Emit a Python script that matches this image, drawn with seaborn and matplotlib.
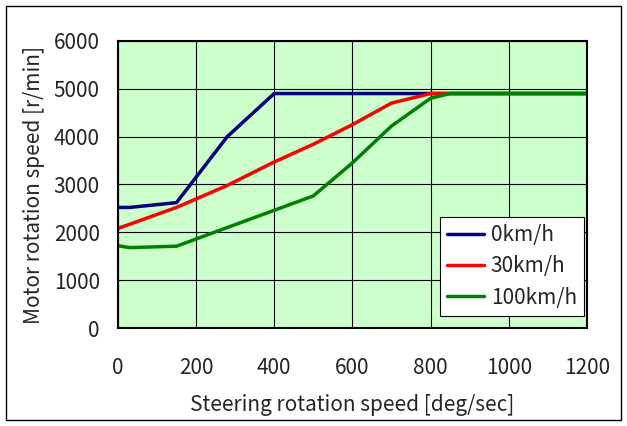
import pandas as pd
import seaborn as sns
import matplotlib.pyplot as plt
import matplotlib.patches as patches

# --- données ---
x_0kmh = [0, 30, 150, 280, 400, 1200]
y_0kmh = [2520, 2520, 2620, 4000, 4900, 4900]

x_30kmh = [0, 150, 280, 400, 500, 600, 700, 800, 850, 1200]
y_30kmh = [2080, 2520, 2980, 3470, 3840, 4250, 4700, 4900, 4900, 4900]

x_100kmh = [0, 30, 150, 500, 600, 700, 800, 850, 1200]
y_100kmh = [1720, 1680, 1710, 2760, 3450, 4220, 4800, 4900, 4900]

labels = ["0km/h", "30km/h", "100km/h"]
colors = ["#000080", "#FF0000", "#008000"]

df = pd.concat([
    pd.DataFrame({"x": x_0kmh, "y": y_0kmh, "vitesse": labels[0]}),
    pd.DataFrame({"x": x_30kmh, "y": y_30kmh, "vitesse": labels[1]}),
    pd.DataFrame({"x": x_100kmh, "y": y_100kmh, "vitesse": labels[2]}),
])

sns.set_style("white")
plt.rcParams["font.family"] = ["Noto Sans CJK JP", "DejaVu Sans"]

fig = plt.figure(figsize=(6.27, 4.26), dpi=100)
ax = fig.add_axes([0.188, 0.230, 0.748, 0.674])
ax.set_facecolor("#CCFFCC")

sns.lineplot(data=df, x="x", y="y", hue="vitesse", palette=dict(zip(labels, colors)),
             linewidth=2.5, sort=False, estimator=None, ax=ax)

ax.set_xlim(0, 1200)
ax.set_ylim(0, 6000)
ax.set_xticks(range(0, 1201, 200))
ax.set_yticks(range(0, 6001, 1000))
ax.grid(True, color="black", linewidth=0.8)
for s in ax.spines.values():
    s.set_color("black")
    s.set_linewidth(1.5)
ax.tick_params(axis="x", labelsize=15, length=0, pad=21)
ax.tick_params(axis="y", labelsize=15, length=0, pad=13)
ax.set_xlabel("Steering rotation speed [deg/sec]", fontsize=15, labelpad=11)
ax.set_ylabel("Motor rotation speed [r/min]", fontsize=15, labelpad=6)

# legende en bas a droite
leg = ax.legend(loc="lower right", bbox_to_anchor=(0.994, 0.042), fontsize=15,
                frameon=True, fancybox=False, edgecolor="black",
                handlelength=1.8, handletextpad=0.3, borderaxespad=0,
                labelspacing=0.45, borderpad=0.35)
leg.get_frame().set_linewidth(0.8)
leg.get_frame().set_alpha(1)

# cadre autour de la figure
fig.patches.append(patches.Rectangle((0.01, 0.015), 0.98, 0.97, transform=fig.transFigure,
                                     fill=False, edgecolor="black", linewidth=1))

fig.savefig("out.png", dpi=100)
